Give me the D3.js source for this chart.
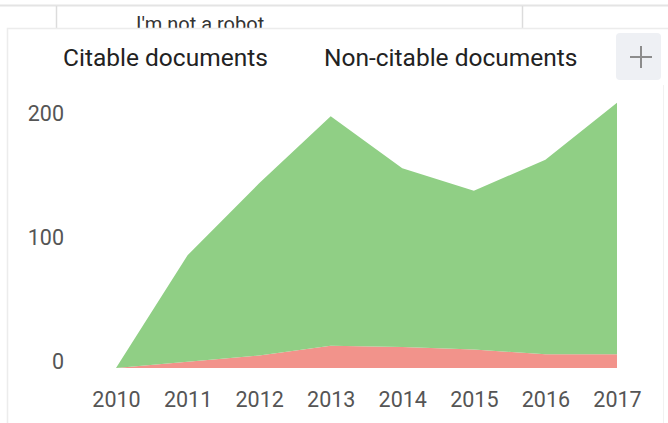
<!DOCTYPE html>
<html>
<head>
<meta charset="utf-8">
<script src="https://cdn.jsdelivr.net/npm/d3@7/dist/d3.min.js"></script>
<style>
  html, body { margin: 0; padding: 0; background: #ffffff; }
  svg { display: block; font-family: Roboto, "Noto Sans", sans-serif; }
</style>
</head>
<body>
<svg id="chart" width="668" height="423"></svg>
<script>
// Documents per year, stacked: non-citable at the bottom, citable on top
const years = [2010, 2011, 2012, 2013, 2014, 2015, 2016, 2017];
const citable = [0, 86, 139, 185, 144, 128, 157, 203];
const nonCitable = [0, 5, 10, 18, 17, 15, 11, 11];
const yTicks = [0, 100, 200];
const seriesNames = ["Citable documents", "Non-citable documents"];
const seriesColors = { nonCitable: "#f2938b", citable: "#90cf85" };

const svg = d3.select("#chart");
const W = 668, H = 423;

// Page chrome behind the chart card
svg.append("rect").attr("width", W).attr("height", H).attr("fill", "#ffffff");
svg.append("line").attr("x1", 0).attr("x2", W).attr("y1", 5.5).attr("y2", 5.5)
  .attr("stroke", "#e4e4e4").attr("stroke-width", 2);
[56.5, 522.5].forEach(x => {
  svg.append("line").attr("x1", x).attr("x2", x).attr("y1", 6).attr("y2", 28)
    .attr("stroke", "#dcdcdc").attr("stroke-width", 1.5);
});
svg.append("text").attr("x", 136).attr("y", 31)
  .attr("font-size", 20).attr("fill", "#333").text("I'm not a robot");

// Chart card
svg.append("rect").attr("x", 7.5).attr("y", 28.5).attr("width", 700).attr("height", 420)
  .attr("fill", "#ffffff").attr("stroke", "#ececec").attr("stroke-width", 1.5);
svg.append("line").attr("x1", 663.5).attr("x2", 663.5).attr("y1", 85).attr("y2", H)
  .attr("stroke", "#f1f1f1").attr("stroke-width", 1);

// Legend
svg.append("text").attr("x", 63).attr("y", 66).attr("font-size", 24.5).attr("fill", "#222")
  .text(seriesNames[0]);
svg.append("text").attr("x", 324).attr("y", 66).attr("font-size", 24.5).attr("fill", "#222")
  .text(seriesNames[1]);

// Expand button
svg.append("rect").attr("x", 616).attr("y", 33).attr("width", 45).attr("height", 47).attr("rx", 4)
  .attr("fill", "#eef0f4");
svg.append("path").attr("d", "M630,57H652M641,46V68")
  .attr("stroke", "#8c8c8c").attr("stroke-width", 2).attr("fill", "none");

// Scales
const x = d3.scaleLinear().domain([2010, 2017]).range([116, 617]);
const y = d3.scaleLinear().domain([0, 200]).range([368, 120]);

const rows = years.map((yr, i) => ({ year: yr, nonCitable: nonCitable[i], citable: citable[i] }));
const stacked = d3.stack().keys(["nonCitable", "citable"])(rows);

const area = d3.area()
  .x(d => x(d.data.year))
  .y0(d => y(d[0]))
  .y1(d => y(d[1]));

svg.append("g").selectAll("path").data(stacked).join("path")
  .attr("d", area)
  .attr("fill", d => seriesColors[d.key]);

// Axes
const yAxis = d3.axisLeft(y).tickValues(yTicks).tickSize(0).tickPadding(0);
const gy = svg.append("g").attr("transform", "translate(64,0)").call(yAxis);
gy.select(".domain").remove();
gy.selectAll("text").attr("dy", 0).attr("font-size", 21.5).attr("fill", "#555")
  .attr("font-family", "Roboto, sans-serif");

const xAxis = d3.axisBottom(x).tickValues(years).tickFormat(d3.format("d")).tickSize(0).tickPadding(0);
const gx = svg.append("g").attr("transform", "translate(0,407)").call(xAxis);
gx.select(".domain").remove();
gx.selectAll("text").attr("dy", 0).attr("font-size", 21.5).attr("fill", "#555")
  .attr("font-family", "Roboto, sans-serif");
</script>
</body>
</html>
